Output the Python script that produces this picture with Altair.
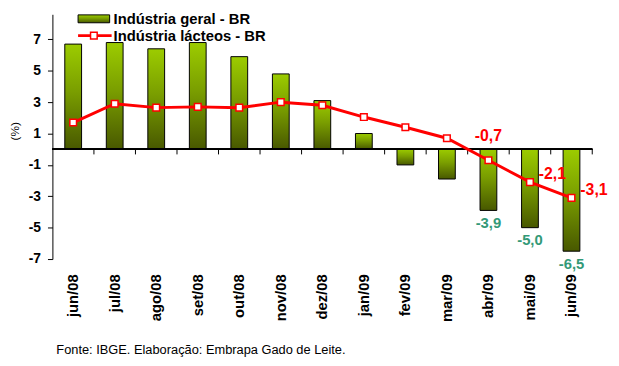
import altair as alt
import pandas as pd

months = ["jun/08", "jul/08", "ago/08", "set/08", "out/08", "nov/08", "dez/08",
          "jan/09", "fev/09", "mar/09", "abr/09", "mai/09", "jun/09"]
industria_geral = [6.7, 6.8, 6.4, 6.8, 5.9, 4.8, 3.1, 1.0, -1.0, -1.9, -3.9, -5.0, -6.5]
industria_lacteos = [1.7, 2.9, 2.65, 2.7, 2.65, 3.0, 2.8, 2.05, 1.4, 0.7, -0.7, -2.1, -3.1]
labelled_months = ["abr/09", "mai/09", "jun/09"]
y_ticks = [-7, -5, -3, -1, 1, 3, 5, 7]

series_geral = "Indústria geral - BR"
series_lacteos = "Indústria lácteos - BR"
source_note = "Fonte: IBGE. Elaboração: Embrapa Gado de Leite."

FONT = "Liberation Sans, Arial"

def fmt(v):
    return f"{v:.1f}".replace(".", ",")

df = pd.DataFrame({
    "month": months,
    "geral": industria_geral,
    "lacteos": industria_lacteos,
})
df["geral_lab"] = [fmt(v) for v in industria_geral]
df["lacteos_lab"] = [fmt(v) for v in industria_lacteos]

bar_gradient = alt.LinearGradient(
    gradient="linear",
    stops=[alt.GradientStop(color="#9ccc00", offset=0),
           alt.GradientStop(color="#7a9e00", offset=0.45),
           alt.GradientStop(color="#485800", offset=1)],
    x1=0, x2=0, y1=0, y2=1,
)

xscale = alt.Scale(domain=months, paddingInner=0, paddingOuter=0)
yscale = alt.Scale(domain=[-7, 8.6], nice=False, zero=False)

xenc = alt.X("month:N", sort=months, scale=xscale, title=None,
             axis=alt.Axis(labelAngle=-90, labelAlign="right", labelBaseline="middle",
                           labelFont=FONT, labelFontSize=15, labelFontWeight="bold",
                           labelColor="black", labelPadding=15, domain=False, ticks=False,
                           labelOverlap=False))
yenc = alt.Y("geral:Q", scale=yscale,
             axis=alt.Axis(values=y_ticks, tickCount=20, grid=False, title="(%)",
                           labelExpr="datum.value + ''", labelOverlap=False,
                           labelFont=FONT, labelFontSize=14, labelFontWeight="bold",
                           labelColor="black", labelPadding=7,
                           domainColor="black", tickColor="black", tickSize=5,
                           titleFont=FONT, titleFontSize=12, titleFontWeight="normal",
                           titleColor="black", titleX=-38, titleY=118, titleAngle=-90,
                           titleBaseline="middle", titleAlign="center"))

base = alt.Chart(df)

bars = base.mark_bar(size=17, fill=bar_gradient, stroke="black", strokeWidth=1).encode(
    x=xenc, y=yenc)

zero_line = base.mark_rule(color="black", strokeWidth=1).encode(
    x=alt.value(0), x2=alt.value(547), y=alt.datum(0))

ticks = base.mark_rule(color="black", strokeWidth=1).encode(
    x=alt.X("month:N", sort=months, scale=xscale, bandPosition=1),
    y=alt.datum(0), y2=alt.datum(-0.33))

line = base.mark_line(color="#ff0000", strokeWidth=3).encode(
    x=alt.X("month:N", sort=months, scale=xscale),
    y=alt.Y("lacteos:Q", scale=yscale))

points = base.mark_square(size=45, fill="white", stroke="#ff0000", strokeWidth=1.5,
                          opacity=1).encode(
    x=alt.X("month:N", sort=months, scale=xscale),
    y=alt.Y("lacteos:Q", scale=yscale))

red_above = base.transform_filter(alt.datum.month == "abr/09").mark_text(
    font=FONT, fontSize=16, fontWeight="bold", color="#ff0000", dy=-24,
    align="center", baseline="middle").encode(
    x=alt.X("month:N", sort=months, scale=xscale),
    y=alt.Y("lacteos:Q", scale=yscale), text="lacteos_lab:N")

red_right = base.transform_filter(
    alt.FieldOneOfPredicate(field="month", oneOf=["mai/09", "jun/09"])).mark_text(
    font=FONT, fontSize=16, fontWeight="bold", color="#ff0000", dx=9, dy=-8,
    align="left", baseline="middle").encode(
    x=alt.X("month:N", sort=months, scale=xscale),
    y=alt.Y("lacteos:Q", scale=yscale), text="lacteos_lab:N")

green_below = base.transform_filter(
    alt.FieldOneOfPredicate(field="month", oneOf=labelled_months)).mark_text(
    font=FONT, fontSize=15, fontWeight="bold", color="#339977", dy=13,
    align="center", baseline="middle").encode(
    x=alt.X("month:N", sort=months, scale=xscale),
    y=alt.Y("geral:Q", scale=yscale), text="geral_lab:N")

one = alt.Chart(alt.Data(values=[{"k": 1}]))

leg_rect = one.mark_rect(fill=bar_gradient, stroke="black", strokeWidth=1).encode(
    x=alt.value(26), x2=alt.value(58), y=alt.value(0.6), y2=alt.value(8.6))
leg_line = one.mark_rule(color="#ff0000", strokeWidth=3).encode(
    x=alt.value(26), x2=alt.value(60), y=alt.value(21.6))
leg_marker = one.mark_square(size=45, fill="white", stroke="#ff0000", strokeWidth=1.5,
                             opacity=1).encode(x=alt.value(42), y=alt.value(21.6))
leg_text1 = one.mark_text(font=FONT, fontSize=15, fontWeight="bold", color="black",
                          align="left", baseline="alphabetic").encode(
    x=alt.value(62), y=alt.value(10), text=alt.value(series_geral))
leg_text2 = one.mark_text(font=FONT, fontSize=15, fontWeight="bold", color="black",
                          align="left", baseline="alphabetic").encode(
    x=alt.value(62), y=alt.value(27), text=alt.value(series_lacteos))
footer = one.mark_text(font=FONT, fontSize=13, color="black",
                       align="left", baseline="middle").encode(
    x=alt.value(4), y=alt.value(340), text=alt.value(source_note))

chart = alt.layer(
    bars, zero_line, ticks, line, points, red_above, red_right, green_below,
    leg_rect, leg_line, leg_marker, leg_text1, leg_text2, footer
).properties(
    width=547, height=248,
    padding={"left": 45, "top": 4, "right": 19, "bottom": 106},
    autosize=alt.AutoSizeParams(type="none"),
    background="white",
).configure_view(stroke=None)

chart.save("out.html", embed_options={"renderer": "svg", "actions": False})
